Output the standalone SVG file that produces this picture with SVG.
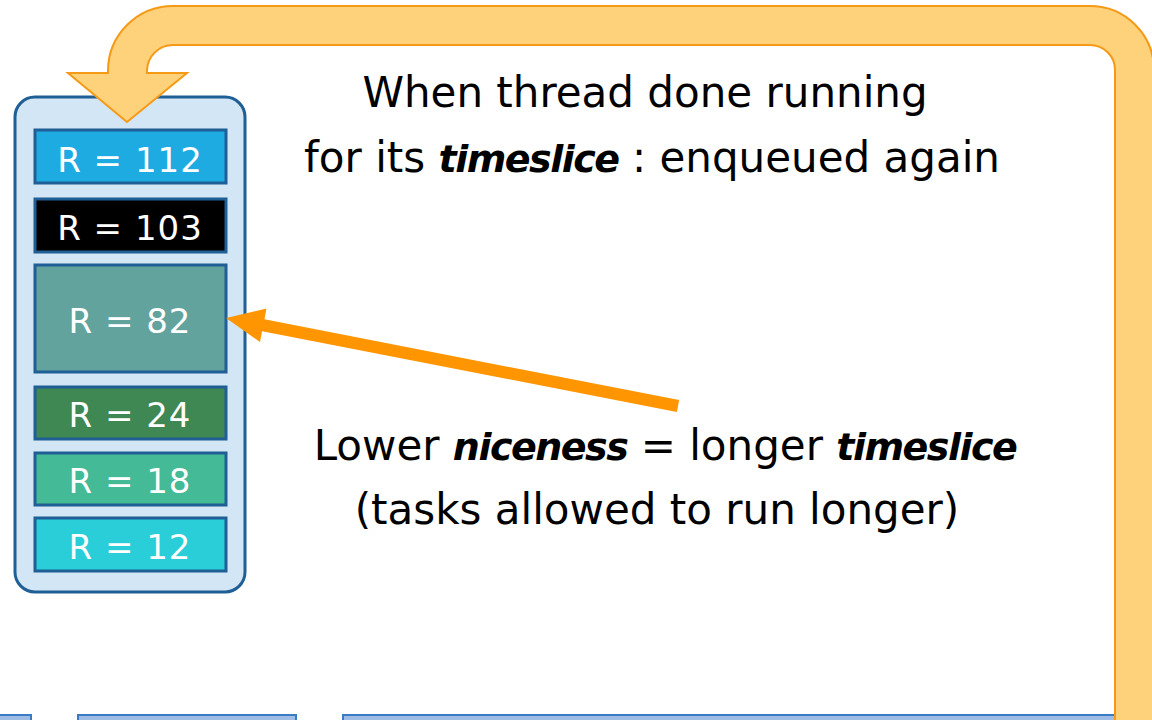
<svg xmlns="http://www.w3.org/2000/svg" width="1152" height="720" viewBox="0 0 1152 720">
<style>
.big{font-family:"DejaVu Sans","Liberation Sans",sans-serif;font-size:42px;fill:#000;text-anchor:middle}
.bi{font-weight:bold;font-style:italic;font-size:38px;letter-spacing:-1.5px}
.rl{font-family:"DejaVu Sans","Liberation Sans",sans-serif;font-size:34px;fill:#fff;text-anchor:middle;letter-spacing:1px}
.cell{stroke:#1f5f96;stroke-width:3}
.bot{fill:#9fbde4;stroke:#3a7cc4;stroke-width:2}
</style>
<g id="bottom-boxes">
<rect class="bot" x="-5" y="715" width="36" height="20"/>
<rect class="bot" x="78" y="715" width="218" height="20"/>
<rect class="bot" x="343" y="715" width="772" height="20"/>
</g>
<g id="queue">
<rect x="15" y="97" width="230" height="495" rx="20" ry="20" fill="#d2e6f5" stroke="#1f5f96" stroke-width="3"/>
</g>
<g id="loop-arrow">
<path d="M68,73 L108,73 L108,71 A65,65 0 0 1 173,6 L1090,6 A64,64 0 0 1 1154,70 L1154,730 L1115,730 L1115,70 A25,25 0 0 0 1090,45 L173,45 A26,26 0 0 0 147,71 L147,73 L187,73 L127,122 Z" fill="#fdd27a" stroke="#f59a17" stroke-width="2"/>
</g>
<g id="r112"><rect class="cell" x="35" y="130" width="191" height="53" fill="#1eabe2"/><text class="rl" x="130" y="172">R = 112</text></g>
<g id="r103"><rect class="cell" x="35" y="199" width="191" height="53" fill="#000"/><text class="rl" x="130" y="240">R = 103</text></g>
<g id="r82"><rect class="cell" x="35" y="265" width="191" height="107" fill="#63a39e"/><text class="rl" x="130" y="333">R = 82</text></g>
<g id="r24"><rect class="cell" x="35" y="387" width="191" height="52" fill="#3f8753"/><text class="rl" x="130" y="427">R = 24</text></g>
<g id="r18"><rect class="cell" x="35" y="453" width="191" height="52" fill="#45ba96"/><text class="rl" x="130" y="493">R = 18</text></g>
<g id="r12"><rect class="cell" x="35" y="518" width="191" height="53" fill="#29ced9"/><text class="rl" x="130" y="559">R = 12</text></g>
<g id="connectors">
<line x1="678" y1="406" x2="262" y2="325" stroke="#ff9500" stroke-width="12"/>
<polygon points="226,318 266.5,308.6 260,342" fill="#ff9500"/>
</g>
<g id="label-top">
<text class="big" x="645" y="107">When thread done running</text>
<text class="big" x="652" y="172">for its <tspan class="bi">timeslice</tspan> : enqueued again</text>
</g>
<g id="label-mid">
<text class="big" x="665" y="460">Lower <tspan class="bi">niceness</tspan> = longer <tspan class="bi">timeslice</tspan></text>
<text class="big" x="657" y="524">(tasks allowed to run longer)</text>
</g>
</svg>
